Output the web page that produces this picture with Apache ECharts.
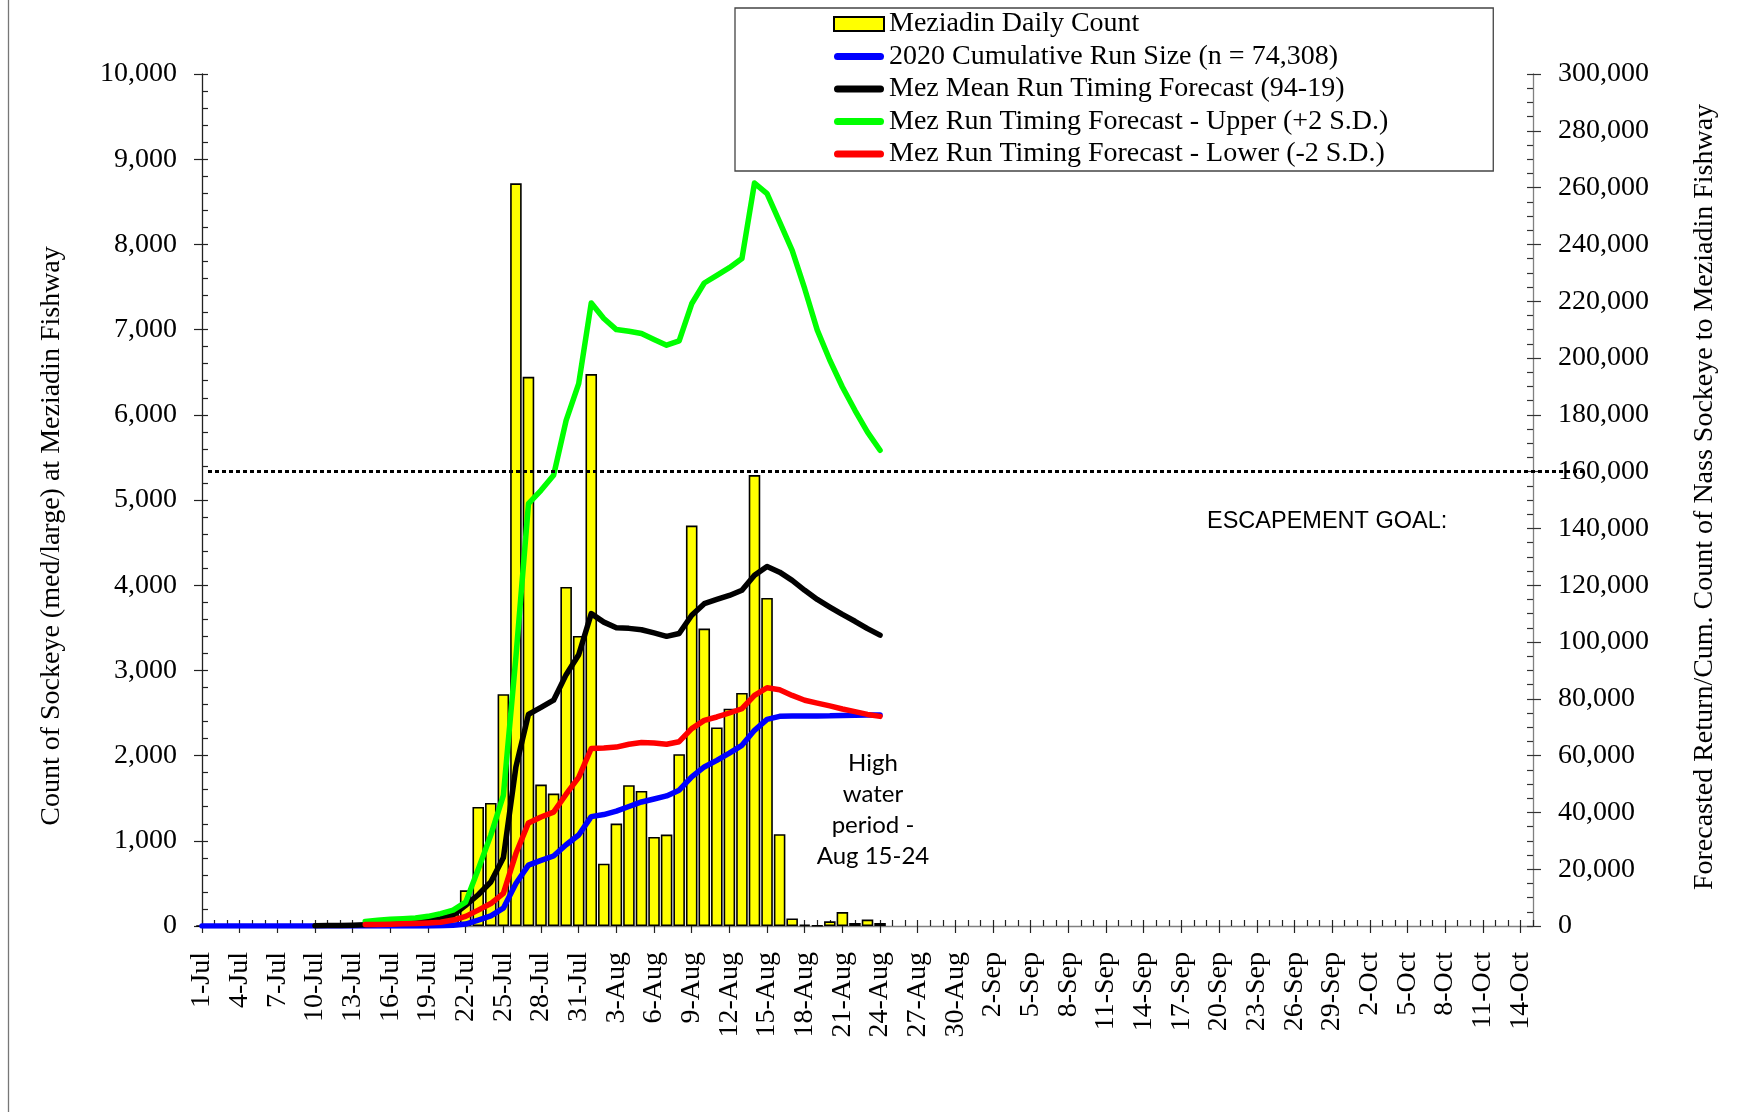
<!DOCTYPE html>
<html>
<head>
<meta charset="utf-8">
<title>Meziadin Daily Count 2020</title>
<script src="https://cdn.jsdelivr.net/npm/echarts@6/dist/echarts.min.js"></script>
<style>
  html, body { margin: 0; padding: 0; background: #fff; }
  #chart { width: 1741px; height: 1112px; }
</style>
</head>
<body>
<div id="chart"></div>
<script>
// x axis: 1-Jul .. 15-Oct, one category per day
var months = [['Jul', 31], ['Aug', 31], ['Sep', 30], ['Oct', 15]];
var days = [];
months.forEach(function (m) {
  for (var d = 1; d <= m[1]; d++) days.push(d + '-' + m[0]);
});

// daily count, 1-Jul .. 24-Aug (left axis)
var dailyCount = [
  0, 0, 0, 0, 0, 0, 0, 0, 0, 0, 0, 0, 0, 0, 0, 0,
  5, 15, 20, 60, 184, 419, 1397, 1444, 2720,
  8717, 6446, 1660, 1554, 3980, 3405, 6478, 732, 1202, 1652,
  1585, 1045, 1073, 2016, 4700, 3491, 2330, 2550, 2736, 5292,
  3850, 1077, 89, 15, 5, 55, 164, 35, 75, 35
];

// 2020 cumulative run size (right axis)
var cumulative2020 = [
  0, 0, 0, 0, 0, 0, 0, 0, 0, 0, 0, 0, 0, 0, 0, 0,
  5, 20, 40, 100, 284, 703, 2100, 3544, 6264,
  14981, 21427, 23087, 24641, 28621, 32026, 38504, 39236, 40438, 42090,
  43675, 44720, 45793, 47809, 52509, 56000, 58330, 60880, 63616, 68908,
  72758, 73835, 73924, 73939, 73944, 73999, 74163, 74198, 74273, 74308
];

// mean run timing forecast (94-19), starts 10-Jul
var meanForecast = [
  null, null, null, null, null, null, null, null, null,
  100, 150, 200, 300, 450, 600, 800, 1050, 1400, 2000, 2600, 3800,
  7300, 11000, 15500, 24000, 56000, 74500, 77000, 79500, 88500, 95500,
  110000, 107000, 105000, 104800, 104300, 103200, 102000, 103000, 109400, 113500,
  115000, 116400, 118200, 123500, 126600, 124600, 121700, 118200, 115000, 112300,
  109700, 107300, 104700, 102400
];

// upper forecast (+2 S.D.), starts 14-Jul
var upperForecast = [
  null, null, null, null, null, null, null, null, null, null, null, null, null,
  1600, 2000, 2360, 2590, 2830, 3400, 4370, 5600, 8400, 20000, 32000, 46000,
  94700, 148700, 153400, 158700, 178000, 191000, 219400, 213900, 210000, 209400,
  208600, 206500, 204500, 206000, 219100, 226400, 229100, 231800, 235000, 261600,
  257900, 247900, 237900, 224400, 209800, 199200, 189800, 181600, 173900, 167500
];

// lower forecast (-2 S.D.), starts 14-Jul
var lowerForecast = [
  null, null, null, null, null, null, null, null, null, null, null, null, null,
  500, 550, 650, 750, 900, 1060, 1300, 2100, 3400, 5600, 7900, 11500,
  25500, 36300, 38400, 40100, 46400, 52300, 62500, 62700, 63000, 64000,
  64600, 64400, 64000, 64900, 69500, 72400, 73600, 75000, 76500, 81200,
  83900, 83200, 81200, 79500, 78500, 77500, 76400, 75500, 74500, 73800
];

var escapementGoal = 160000;

var serif = 'Liberation Serif';
// thick line with round ends, used as legend icon for the lines
var pill = 'path://M3.5,0 L46.5,0 A3.5,3.5 0 0 1 46.5,7 L3.5,7 A3.5,3.5 0 0 1 3.5,0 Z';
function fmt(v) { return String(v).replace(/\B(?=(\d{3})+(?!\d))/g, ','); }

var chart = echarts.init(document.getElementById('chart'));

function lineSeries(name, data, color) {
  return {
    name: name,
    type: 'line',
    xAxisIndex: 0,
    yAxisIndex: 1,
    symbol: 'none',
    data: data,
    itemStyle: { color: color },
    lineStyle: { color: color, width: 5.5, cap: 'round', join: 'round' }
  };
}

var option = {
  animation: false,
  backgroundColor: '#fff',
  grid: { left: 202, right: 208, top: 74, bottom: 186 },
  legend: {
    left: 735,
    top: 8,
    orient: 'vertical',
    align: 'left',
    padding: [2, 105, 3, 98],
    backgroundColor: '#fff',
    borderColor: '#444',
    borderWidth: 1.3,
    borderRadius: 0,
    itemWidth: 50,
    itemHeight: 14,
    itemGap: 4.5,
    textStyle: { fontFamily: serif, fontSize: 28, color: '#000' },
    data: [
      { name: 'Meziadin Daily Count', icon: 'rect' },
      { name: '2020 Cumulative Run Size (n = 74,308)', icon: pill },
      { name: 'Mez Mean Run Timing Forecast (94-19)', icon: pill },
      { name: 'Mez Run Timing Forecast - Upper (+2 S.D.)', icon: pill },
      { name: 'Mez Run Timing Forecast - Lower (-2 S.D.)', icon: pill }
    ]
  },
  xAxis: [
    {
      type: 'category',
      position: 'bottom',
      data: days,
      boundaryGap: false,
      axisLine: { lineStyle: { color: '#808080', width: 1.3 } },
      axisTick: { interval: 2, length: 7, lineStyle: { color: '#222', width: 1.2 } },
      axisLabel: {
        interval: 2, rotate: 90, margin: 26,
        fontFamily: serif, fontSize: 28, color: '#000'
      },
      splitLine: { show: false }
    },
    {
      type: 'category',
      position: 'bottom',
      data: days,
      boundaryGap: false,
      axisLine: { show: false },
      axisTick: { interval: 0, inside: true, length: 6, lineStyle: { color: '#222', width: 1.2 } },
      axisLabel: { show: false },
      splitLine: { show: false }
    }
  ],
  yAxis: [
    {
      type: 'value',
      position: 'left',
      min: 0, max: 10000, interval: 1000,
      axisLine: { show: true, lineStyle: { color: '#222', width: 1.3 } },
      axisTick: { show: true, inside: true, length: 6, lineStyle: { color: '#222', width: 1.2 } },
      minorTick: { show: true, splitNumber: 5, length: 6, lineStyle: { color: '#222', width: 1.2 } },
      axisLabel: { margin: 25, fontFamily: serif, fontSize: 28, color: '#000', formatter: fmt },
      splitLine: { show: false }
    },
    {
      type: 'value',
      position: 'right',
      min: 0, max: 300000, interval: 20000,
      axisLine: { show: true, lineStyle: { color: '#808080', width: 1.3 } },
      axisTick: { show: true, inside: true, length: 6, lineStyle: { color: '#333', width: 1.2 } },
      minorTick: { show: true, splitNumber: 4, length: 6, lineStyle: { color: '#333', width: 1.2 } },
      axisLabel: { margin: 25, fontFamily: serif, fontSize: 28, color: '#000', formatter: fmt },
      splitLine: { show: false }
    },
    {
      type: 'value',
      position: 'left',
      min: 0, max: 10000, interval: 1000,
      axisLine: { show: false },
      axisTick: { show: true, length: 8, lineStyle: { color: '#222', width: 1.2 } },
      axisLabel: { show: false },
      splitLine: { show: false }
    },
    {
      type: 'value',
      position: 'right',
      min: 0, max: 300000, interval: 20000,
      axisLine: { show: false },
      axisTick: { show: true, length: 8, lineStyle: { color: '#333', width: 1.2 } },
      axisLabel: { show: false },
      splitLine: { show: false }
    }
  ],
  series: [
    {
      name: 'Meziadin Daily Count',
      type: 'bar',
      xAxisIndex: 0,
      yAxisIndex: 0,
      data: dailyCount,
      barCategoryGap: '8%',
      itemStyle: { color: '#FFFF00', borderColor: '#000', borderWidth: 1.6 }
    },
    lineSeries('2020 Cumulative Run Size (n = 74,308)', cumulative2020, '#0000FF'),
    lineSeries('Mez Mean Run Timing Forecast (94-19)', meanForecast, '#000000'),
    lineSeries('Mez Run Timing Forecast - Upper (+2 S.D.)', upperForecast, '#00FF00'),
    lineSeries('Mez Run Timing Forecast - Lower (-2 S.D.)', lowerForecast, '#FF0000')
  ]
};

chart.setOption(option);

// escapement goal line + free text, placed through the axes
var goalY = chart.convertToPixel({ yAxisIndex: 1 }, escapementGoal);
var x0 = chart.convertToPixel({ xAxisIndex: 0 }, 0);
var x1 = chart.convertToPixel({ xAxisIndex: 0 }, days.length - 1);

chart.setOption({
  graphic: [
    {
      type: 'line', silent: true,
      shape: { x1: 8.5, y1: 0, x2: 8.5, y2: 1112 },
      style: { stroke: '#777', lineWidth: 1.3 }
    },
    {
      type: 'line', silent: true, z: 10,
      shape: { x1: x0 + 6, y1: goalY, x2: x1 + 50, y2: goalY },
      style: { stroke: '#000', lineWidth: 3, lineDash: [4, 3] }
    },
    {
      type: 'text', silent: true,
      x: 52, y: 536, rotation: Math.PI / 2,
      style: {
        text: 'Count of Sockeye (med/large) at Meziadin Fishway',
        font: '28px "Liberation Serif"', fill: '#000',
        align: 'center', verticalAlign: 'middle',
        textAlign: 'center', textVerticalAlign: 'middle'
      }
    },
    {
      type: 'text', silent: true,
      x: 1705, y: 497, rotation: Math.PI / 2,
      style: {
        text: 'Forecasted Return/Cum. Count of Nass Sockeye to Meziadin Fishway',
        font: '28px "Liberation Serif"', fill: '#000',
        align: 'center', verticalAlign: 'middle',
        textAlign: 'center', textVerticalAlign: 'middle'
      }
    },
    {
      type: 'text', silent: true,
      x: 1207, y: 522,
      style: {
        text: 'ESCAPEMENT GOAL:',
        font: '23.5px "Liberation Sans"', fill: '#000',
        align: 'left', verticalAlign: 'middle',
        textAlign: 'left', textVerticalAlign: 'middle'
      }
    },
    {
      type: 'text', silent: true,
      x: 873, y: 810,
      style: {
        text: 'High\nwater\nperiod -\nAug 15-24',
        font: '24px Lato', fill: '#000', lineHeight: 31,
        align: 'center', verticalAlign: 'middle',
        textAlign: 'center', textVerticalAlign: 'middle'
      }
    }
  ]
});
</script>
</body>
</html>
